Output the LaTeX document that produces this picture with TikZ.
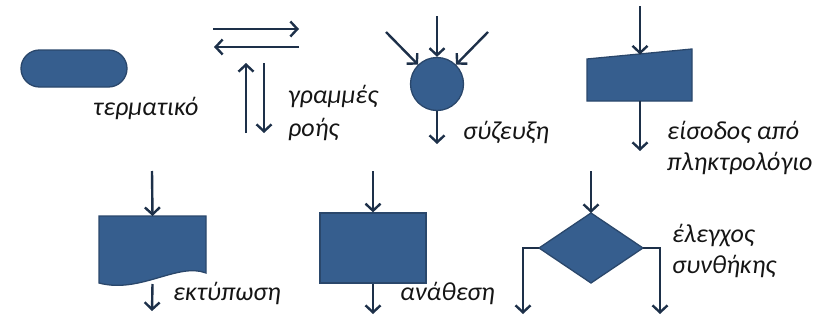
\documentclass[tikz,border=0pt]{standalone}
\usepackage{fontspec}
\setmainfont{Carlito}
\usetikzlibrary{arrows.meta,shapes.misc,calc}
\definecolor{shapeblue}{HTML}{365E8E}
\definecolor{shapeedge}{HTML}{2A476B}
\definecolor{flowcol}{HTML}{1D3049}
\definecolor{labelcol}{HTML}{151515}
\tikzset{
  blockfill/.style={fill=shapeblue, draw=shapeedge, line width=1.3pt},
  flow/.style={draw=flowcol, line width=2.4pt,
    -{Straight Barb[length=7pt,width=15pt,line width=2.4pt]}},
  elbow/.style={flow, line join=miter},
  lbl/.style={font=\fontsize{26}{31}\selectfont\itshape, text=labelcol,
    inner sep=0pt, align=left},
  frame/.style={draw=none, inner sep=0pt, outer sep=0pt},
}
\begin{document}
\begin{tikzpicture}[x=1pt, y=-1pt]
\useasboundingbox (0,0) rectangle (819,324);

% --- terminal ---
\node[blockfill, rounded rectangle, minimum width=106pt, minimum height=37pt,
      inner sep=0pt] (term) at (74,68.5) {};
\node[lbl, anchor=base west] (termlbl) at (93,115) {τερματικό};

% --- flow lines ---
\coordinate (h1a) at (213,29);  \coordinate (h1b) at (299,29);
\coordinate (h2a) at (299,47);  \coordinate (h2b) at (214,47);
\coordinate (v1a) at (246,133); \coordinate (v1b) at (246,63);
\coordinate (v2a) at (264,63);  \coordinate (v2b) at (264,133);
\draw[flow] (h1a) -- (h1b);
\draw[flow] (h2a) -- (h2b);
\draw[flow] (v1a) -- (v1b);
\draw[flow] (v2a) -- (v2b);
% multi-line labels: the base anchor sits on the last line
\node[lbl, anchor=base west, font=\fontsize{26}{33}\selectfont\itshape]
  (flowlbl) at (288,136) {γραμμές\\ροής};

% --- connector circle ---
\node[blockfill, circle, minimum size=53pt, inner sep=0pt] (join) at (437,84) {};
\coordinate (jt) at (437,16);
\coordinate (jl) at (386,32);
\coordinate (jr) at (488,32);
\coordinate (jb) at (437,144);
\draw[flow] (jt) -- (join);
\draw[flow] (jl) -- (join);
\draw[flow] (jr) -- (join);
\draw[flow] (join) -- (jb);
\node[lbl, anchor=base west] (joinlbl) at (463,139) {σύζευξη};

% --- keyboard input ---
\node[frame, minimum width=105pt, minimum height=52pt] (inp) at (639.5,75) {};
\fill[blockfill] (inp.south west) -- ($(inp.north west)+(0,10)$)
  -- (inp.north east) -- (inp.south east) -- cycle;
\coordinate (it) at (640,6);
\coordinate (ie) at (640,54.5);
\coordinate (ib) at (640,151);
\draw[flow] (it) -- (ie);
\draw[flow] (inp.south -| ib) -- (ib);
\node[lbl, anchor=base west] (inplbl) at (667,170) {είσοδος από\\πληκτρολόγιο};

% --- print ---
\node[frame, minimum width=107pt, minimum height=69pt] (prn) at (152.5,250.5) {};
\fill[blockfill] (prn.north west) -- (prn.north east) -- ($(prn.south east)+(0,-12)$)
  .. controls (178,262) and (140,294) .. ($(prn.south west)+(0,-2)$) -- cycle;
\coordinate (pt) at (152,171);
\coordinate (pb) at (152,311);
\draw[flow] (pt) -- (prn.north);
\draw[flow] ($(prn.south)+(0,-1)$) -- (pb);
\node[lbl, anchor=base west] (prnlbl) at (173,300) {εκτύπωση};

% --- assignment ---
\node[blockfill, rectangle, minimum width=106pt, minimum height=70pt,
      inner sep=0pt] (asg) at (373,248) {};
\coordinate (at) at (373,171);
\coordinate (ab) at (373,314);
\draw[flow] (at) -- (asg);
\draw[flow] (asg) -- (ab);
\node[lbl, anchor=base west] (asglbl) at (400,300) {ανάθεση};

% --- decision ---
\node[frame, minimum width=104pt, minimum height=70pt] (dec) at (591,248) {};
\fill[blockfill] (dec.north) -- (dec.east) -- (dec.south) -- (dec.west) -- cycle;
\coordinate (dt) at (591,171);
\coordinate (dl) at (523,314);
\coordinate (dr) at (660,314);
\draw[flow] (dt) -- (dec.north);
\draw[elbow] (dec.west) -| (dl);
\draw[elbow] (dec.east) -| (dr);
\node[lbl, anchor=base west] (declbl) at (672,273) {έλεγχος\\συνθήκης};
\end{tikzpicture}
\end{document}
